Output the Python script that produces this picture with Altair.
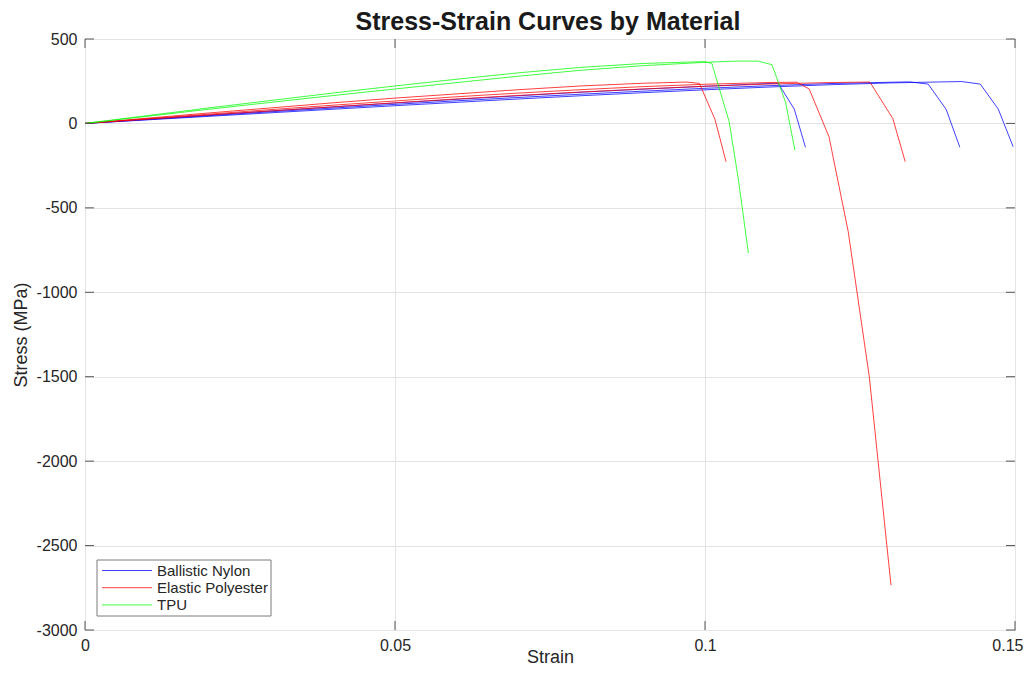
import altair as alt
import pandas as pd

materials = ["Ballistic Nylon", "Elastic Polyester", "TPU"]
colors = ["#0000FF", "#FF0000", "#00FF00"]
chart_title = "Stress-Strain Curves by Material"

# Ballistic Nylon samples
nylon1_strain = [0, 0.01, 0.02, 0.03, 0.04, 0.05, 0.06, 0.07, 0.08, 0.09, 0.10, 0.11, 0.1118, 0.1144, 0.1162]
nylon1_stress = [0, 25, 50, 74, 98, 121, 143, 164, 185, 203, 220, 236, 238, 85, -141]
nylon2_strain = [0, 0.01, 0.02, 0.03, 0.04, 0.05, 0.06, 0.07, 0.08, 0.09, 0.10, 0.11, 0.12, 0.13, 0.133, 0.136, 0.1389, 0.1411]
nylon2_stress = [0, 23, 46, 69, 91, 113, 134, 154, 173, 191, 208, 223, 236, 244, 246, 233, 83, -141]
nylon3_strain = [0, 0.01, 0.02, 0.03, 0.04, 0.05, 0.06, 0.07, 0.08, 0.09, 0.10, 0.11, 0.12, 0.13, 0.1384, 0.1414, 0.1444, 0.1473, 0.1497]
nylon3_stress = [0, 21, 42, 63, 84, 105, 125, 145, 164, 182, 199, 215, 229, 240, 246, 248, 233, 85, -138]

# Elastic Polyester samples
poly1_strain = [0, 0.01, 0.02, 0.03, 0.04, 0.05, 0.06, 0.07, 0.08, 0.09, 0.097, 0.0991, 0.1016, 0.1034]
poly1_stress = [0, 31, 62, 92, 122, 150, 175, 200, 222, 238, 245, 237, 25, -227]
poly2_strain = [0, 0.01, 0.02, 0.03, 0.04, 0.05, 0.06, 0.07, 0.08, 0.09, 0.10, 0.11, 0.1148, 0.1168, 0.120, 0.1231, 0.1265, 0.1300]
poly2_stress = [0, 28, 55, 82, 108, 133, 158, 180, 200, 218, 232, 242, 244, 204, -79, -641, -1500, -2735]
poly3_strain = [0, 0.01, 0.02, 0.03, 0.04, 0.05, 0.06, 0.07, 0.08, 0.09, 0.10, 0.11, 0.12, 0.1266, 0.1303, 0.1323]
poly3_stress = [0, 25, 50, 74, 98, 122, 145, 166, 186, 204, 220, 233, 242, 245, 28, -227]

# TPU samples
tpu1_strain = [0, 0.01, 0.02, 0.03, 0.04, 0.05, 0.06, 0.07, 0.08, 0.09, 0.0997, 0.1011, 0.1039, 0.1054, 0.1070]
tpu1_stress = [0, 46, 92, 136, 180, 222, 262, 300, 332, 355, 366, 356, 10, -335, -768]
tpu2_strain = [0, 0.01, 0.02, 0.03, 0.04, 0.05, 0.06, 0.07, 0.08, 0.09, 0.10, 0.105, 0.1085, 0.1108, 0.1130, 0.1145]
tpu2_stress = [0, 42, 84, 125, 165, 204, 242, 280, 315, 342, 362, 369, 369, 348, 125, -158]

curves = [
    ("Ballistic Nylon", "n1", nylon1_strain, nylon1_stress),
    ("Ballistic Nylon", "n2", nylon2_strain, nylon2_stress),
    ("Ballistic Nylon", "n3", nylon3_strain, nylon3_stress),
    ("Elastic Polyester", "p1", poly1_strain, poly1_stress),
    ("Elastic Polyester", "p2", poly2_strain, poly2_stress),
    ("Elastic Polyester", "p3", poly3_strain, poly3_stress),
    ("TPU", "t1", tpu1_strain, tpu1_stress),
    ("TPU", "t2", tpu2_strain, tpu2_stress),
]

rows = []
for mat, cid, xs, ys in curves:
    for i, (x, y) in enumerate(zip(xs, ys)):
        rows.append({"material": mat, "curve": cid, "strain": x, "stress": y, "idx": i})
df = pd.DataFrame(rows)

x_ticks = [0, 0.05, 0.1, 0.15]
y_ticks = [-3000, -2500, -2000, -1500, -1000, -500, 0, 500]

W, H = 930, 591
FONT = "Liberation Sans"
FRAME = "#555555"
TXT = "#262626"

xscale = alt.Scale(domain=[0, 0.15], nice=False, zero=False)
yscale = alt.Scale(domain=[-3000, 500], nice=False, zero=False)

lines = alt.Chart(df).mark_line(strokeWidth=1, opacity=0.75, clip=True).encode(
    x=alt.X("strain:Q", scale=xscale, title="Strain",
            axis=alt.Axis(values=x_ticks, format="~g", ticks=False, labelPadding=7,
                          labelFlush=False, labelOverlap=False, labelBound=False,
                          labelAlign={"condition": {"test": "datum.value >= 0.149", "value": "right"},
                                      "value": "center"},
                          labelOffset={"condition": {"test": "datum.value >= 0.149", "value": 8},
                                       "value": 0},
                          titleBaseline="alphabetic", titleY=32,
                          gridColor="#e3e3e3", domain=False)),
    y=alt.Y("stress:Q", scale=yscale, title="Stress (MPa)",
            axis=alt.Axis(values=y_ticks, labelExpr="datum.value + ''", ticks=False,
                          labelPadding=8, labelOverlap=False, labelBound=False,
                          titleBaseline="alphabetic", titleX=-59, titleY=H / 2,
                          gridColor="#e3e3e3", domain=False)),
    color=alt.Color("material:N", scale=alt.Scale(domain=materials, range=colors), legend=None),
    detail="curve:N",
    order="idx:Q",
)

xt = pd.DataFrame({"v": x_ticks})
yt = pd.DataFrame({"v": y_ticks})
tick_top = alt.Chart(xt).mark_rule(color=FRAME, strokeWidth=1).encode(
    x=alt.X("v:Q", scale=xscale), y=alt.value(0), y2=alt.value(9))
tick_bot = alt.Chart(xt).mark_rule(color=FRAME, strokeWidth=1).encode(
    x=alt.X("v:Q", scale=xscale), y=alt.value(H - 9), y2=alt.value(H))
tick_left = alt.Chart(yt).mark_rule(color=FRAME, strokeWidth=1).encode(
    y=alt.Y("v:Q", scale=yscale), x=alt.value(0), x2=alt.value(9))
tick_right = alt.Chart(yt).mark_rule(color=FRAME, strokeWidth=1).encode(
    y=alt.Y("v:Q", scale=yscale), x=alt.value(W - 9), x2=alt.value(W))

# title as a text mark above the plot area
title_layer = alt.Chart(pd.DataFrame({"t": [chart_title]})).mark_text(
    font=FONT, fontSize=25, fontWeight="bold", color="#1a1a1a",
    align="center", baseline="alphabetic").encode(
    text="t:N", x=alt.value(W / 2 - 2), y=alt.value(-9))

# manual legend box (inside, bottom-left)
box = alt.Chart(pd.DataFrame({"a": [0]})).mark_rect(
    fill="white", stroke="#7a7a7a", strokeWidth=1).encode(
    x=alt.value(12), x2=alt.value(186), y=alt.value(521), y2=alt.value(577))
legend_layers = [box]
for i, (mat, col) in enumerate(zip(materials, colors)):
    yy = 531.5 + i * 17.2
    ldf = pd.DataFrame({"label": [mat]})
    legend_layers.append(alt.Chart(ldf).mark_rule(color=col, strokeWidth=1, opacity=0.75).encode(
        x=alt.value(17), x2=alt.value(67), y=alt.value(yy)))
    legend_layers.append(alt.Chart(ldf).mark_text(
        align="left", baseline="middle", font=FONT, fontSize=15, color=TXT).encode(
        text="label:N", x=alt.value(72), y=alt.value(yy)))

chart = alt.layer(lines, tick_top, tick_bot, tick_left, tick_right, title_layer,
                  *legend_layers).properties(
    width=W, height=H,
    autosize=alt.AutoSizeParams(type="none"),
    padding={"left": 77, "top": 31, "right": 9, "bottom": 36},
).configure_view(stroke=FRAME, strokeWidth=1).configure_axis(
    labelFont=FONT, labelFontSize=16, labelColor=TXT,
    titleFont=FONT, titleFontSize=18, titleColor=TXT, titleFontWeight="normal",
)

chart.save("out.html", embed_options={"renderer": "svg", "actions": False})
